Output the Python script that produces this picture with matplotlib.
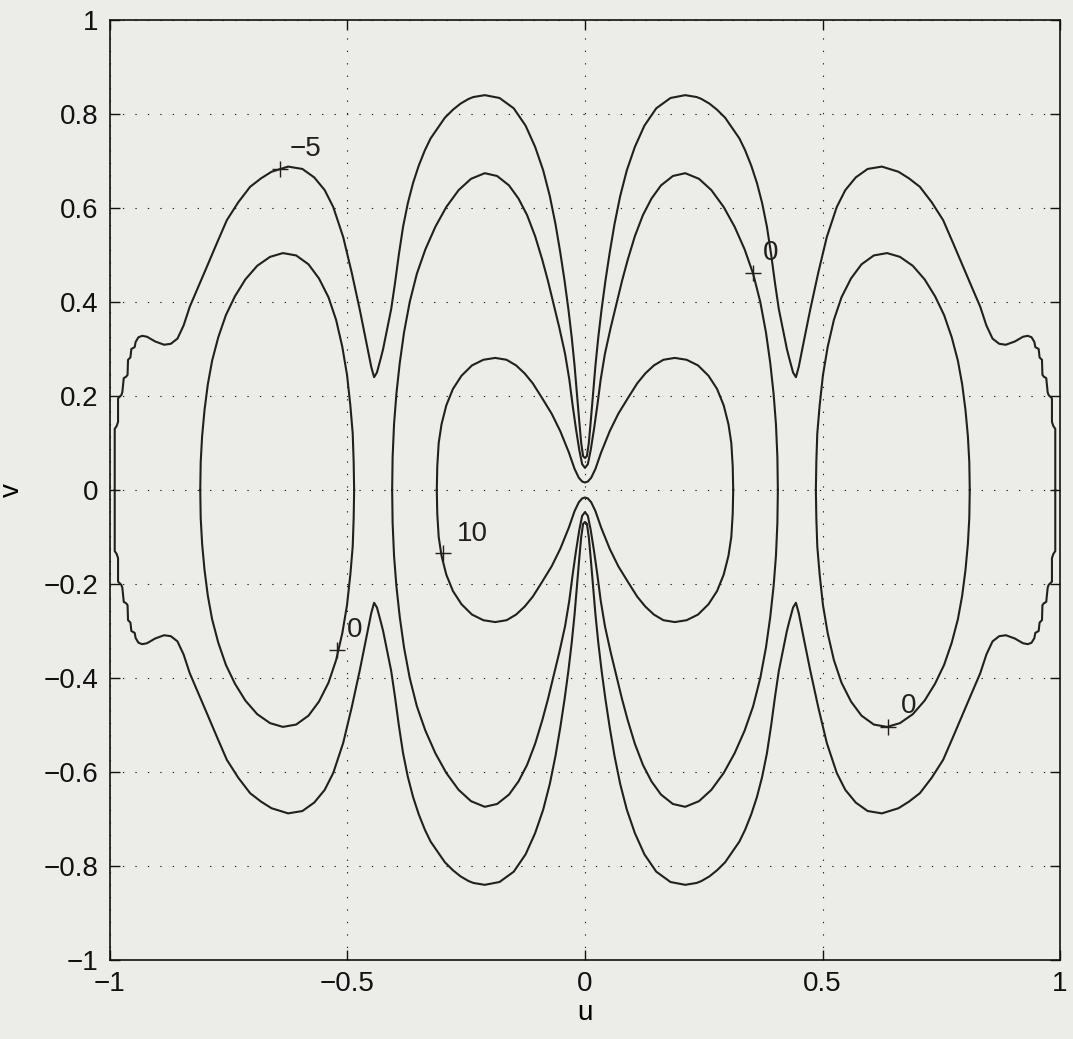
import numpy as np
import matplotlib
matplotlib.use('Agg')
import matplotlib.pyplot as plt

plt.rcParams['font.family'] = ['Liberation Sans', 'DejaVu Sans']

# contour lines, one quarter each (upper left),
# the pattern is symmetric in u and in v so the rest is mirrored

# level -5 : outer envelope, from the left edge (v=0) to the centre notch
m5_u = [-0.990, -0.990, -0.986, -0.983, -0.983, -0.976, -0.974, -0.971, -0.966, -0.963,
        -0.962, -0.957, -0.955, -0.948, -0.946, -0.940, -0.932, -0.922, -0.905, -0.886,
        -0.872, -0.858, -0.845, -0.832, -0.815, -0.796, -0.775, -0.754, -0.730, -0.705,
        -0.682, -0.660, -0.625, -0.595, -0.570, -0.548, -0.530, -0.509, -0.491, -0.474,
        -0.460, -0.450, -0.444, -0.438, -0.430, -0.425, -0.417, -0.408, -0.400, -0.392,
        -0.383, -0.373, -0.362, -0.350, -0.337, -0.325, -0.310, -0.295, -0.278, -0.262,
        -0.245, -0.235, -0.211, -0.180, -0.150, -0.125, -0.105, -0.088, -0.074, -0.062,
        -0.052, -0.043, -0.035, -0.028, -0.022, -0.017, -0.012, -0.008, -0.004, 0.0]
m5_v = [0.000, 0.130, 0.136, 0.145, 0.195, 0.202, 0.208, 0.238, 0.241, 0.245,
        0.277, 0.282, 0.300, 0.304, 0.315, 0.325, 0.328, 0.326, 0.316, 0.309,
        0.311, 0.322, 0.350, 0.390, 0.430, 0.475, 0.525, 0.574, 0.612, 0.645,
        0.663, 0.677, 0.688, 0.683, 0.665, 0.638, 0.602, 0.538, 0.462, 0.383,
        0.313, 0.262, 0.240, 0.250, 0.280, 0.300, 0.340, 0.385, 0.440, 0.500,
        0.560, 0.610, 0.653, 0.690, 0.723, 0.748, 0.770, 0.792, 0.809, 0.822,
        0.832, 0.836, 0.840, 0.834, 0.812, 0.775, 0.730, 0.680, 0.625, 0.565,
        0.505, 0.445, 0.385, 0.325, 0.265, 0.205, 0.145, 0.100, 0.072, 0.068]

# level 0 : curve round the two middle lobes
z0_u = [-0.406, -0.405, -0.402, -0.397, -0.390, -0.381, -0.369, -0.354, -0.336, -0.315,
        -0.292, -0.266, -0.240, -0.211, -0.185, -0.160, -0.140, -0.122, -0.105, -0.090,
        -0.078, -0.066, -0.054, -0.042, -0.033, -0.026, -0.019, -0.012, -0.006, 0.0]
z0_v = [0.000, 0.070, 0.140, 0.205, 0.270, 0.335, 0.400, 0.460, 0.512, 0.560,
        0.602, 0.638, 0.662, 0.674, 0.668, 0.648, 0.620, 0.585, 0.540, 0.490,
        0.445, 0.395, 0.345, 0.290, 0.235, 0.180, 0.130, 0.085, 0.055, 0.047]

# level 0 : outer lobe (upper half of the left ellipse)
lobe_u = [-0.810, -0.809, -0.806, -0.801, -0.794, -0.785, -0.772, -0.756, -0.737, -0.715,
          -0.690, -0.663, -0.636, -0.608, -0.582, -0.560, -0.540, -0.524, -0.511, -0.501,
          -0.494, -0.489, -0.487, -0.486]
lobe_v = [0.000, 0.060, 0.115, 0.170, 0.225, 0.275, 0.325, 0.372, 0.412, 0.448,
          0.477, 0.496, 0.504, 0.499, 0.480, 0.450, 0.410, 0.362, 0.305, 0.245,
          0.180, 0.120, 0.060, 0.000]

# level 10 : inner figure eight
z10_u = [-0.312, -0.311, -0.308, -0.302, -0.292, -0.278, -0.260, -0.238, -0.214, -0.189,
         -0.165, -0.145, -0.127, -0.110, -0.090, -0.070, -0.052, -0.034, -0.022, -0.013,
         -0.006, 0.0]
z10_v = [0.000, 0.050, 0.100, 0.140, 0.180, 0.215, 0.243, 0.265, 0.277, 0.281,
         0.277, 0.265, 0.248, 0.227, 0.195, 0.162, 0.125, 0.080, 0.045, 0.026,
         0.018, 0.016]

# clabel positions
lab_u = [-0.642, 0.354, -0.299, -0.522, 0.638]
lab_v = [0.683, 0.462, -0.134, -0.340, -0.504]
lab_txt = ['\u22125', '0', '10', '0', '0']
lab_off = [(7, 5), (7, 5), (10, 4), (7, 5), (9, 6)]

bg = '#ecece8'
ink = '#231f1f'

fig = plt.figure(figsize=(10.73, 10.39), dpi=100, facecolor=bg)
ax = fig.add_axes([0.1025, 0.076, 0.8854, 0.9048], facecolor=bg)


def half_across(u, v):
    # quarter -> upper half across u=0
    u = np.array(u)
    v = np.array(v)
    return np.concatenate([u, -u[::-1]]), np.concatenate([v, v[::-1]])


for qu, qv in [(m5_u, m5_v), (z0_u, z0_v), (z10_u, z10_v)]:
    hu, hv = half_across(qu, qv)
    ax.plot(hu, hv, color=ink, lw=1.5, solid_joinstyle='round')
    ax.plot(hu, -hv, color=ink, lw=1.5, solid_joinstyle='round')

lu = np.array(lobe_u)
lv = np.array(lobe_v)
for s in [1, -1]:
    ax.plot(s * lu, lv, color=ink, lw=1.5, solid_joinstyle='round')
    ax.plot(s * lu, -lv, color=ink, lw=1.5, solid_joinstyle='round')

# labels
for i in range(len(lab_txt)):
    ax.plot(lab_u[i], lab_v[i], marker='+', ms=12, mew=1.0, color=ink)
    ax.annotate(lab_txt[i], (lab_u[i], lab_v[i]), xytext=lab_off[i],
                textcoords='offset points', ha='left', va='bottom',
                fontsize=20, color=ink)

ax.set_xlim(-1, 1)
ax.set_ylim(-1, 1)
ax.set_xticks([-1, -0.5, 0, 0.5, 1])
ax.set_xticklabels(['\u22121', '\u22120.5', '0', '0.5', '1'])
yt = np.round(np.arange(-1, 1.01, 0.2), 1)
ax.set_yticks(yt)
ax.set_yticklabels([('\u2212' if t < 0 else '') + ('%g' % abs(t)) for t in yt])
ax.tick_params(direction='in', length=7, width=1, top=True, right=True,
               labelsize=20, colors='#111111', pad=8)
ax.grid(True, color='#222222', linestyle=(0, (1.2, 10)), linewidth=0.8)
for sp in ax.spines.values():
    sp.set_linewidth(1.2)
    sp.set_color('#111111')

ax.set_xlabel('u', fontsize=20, labelpad=2)
ax.set_ylabel('v', fontsize=20, labelpad=14)

fig.savefig('out.png', dpi=100, facecolor=bg)
